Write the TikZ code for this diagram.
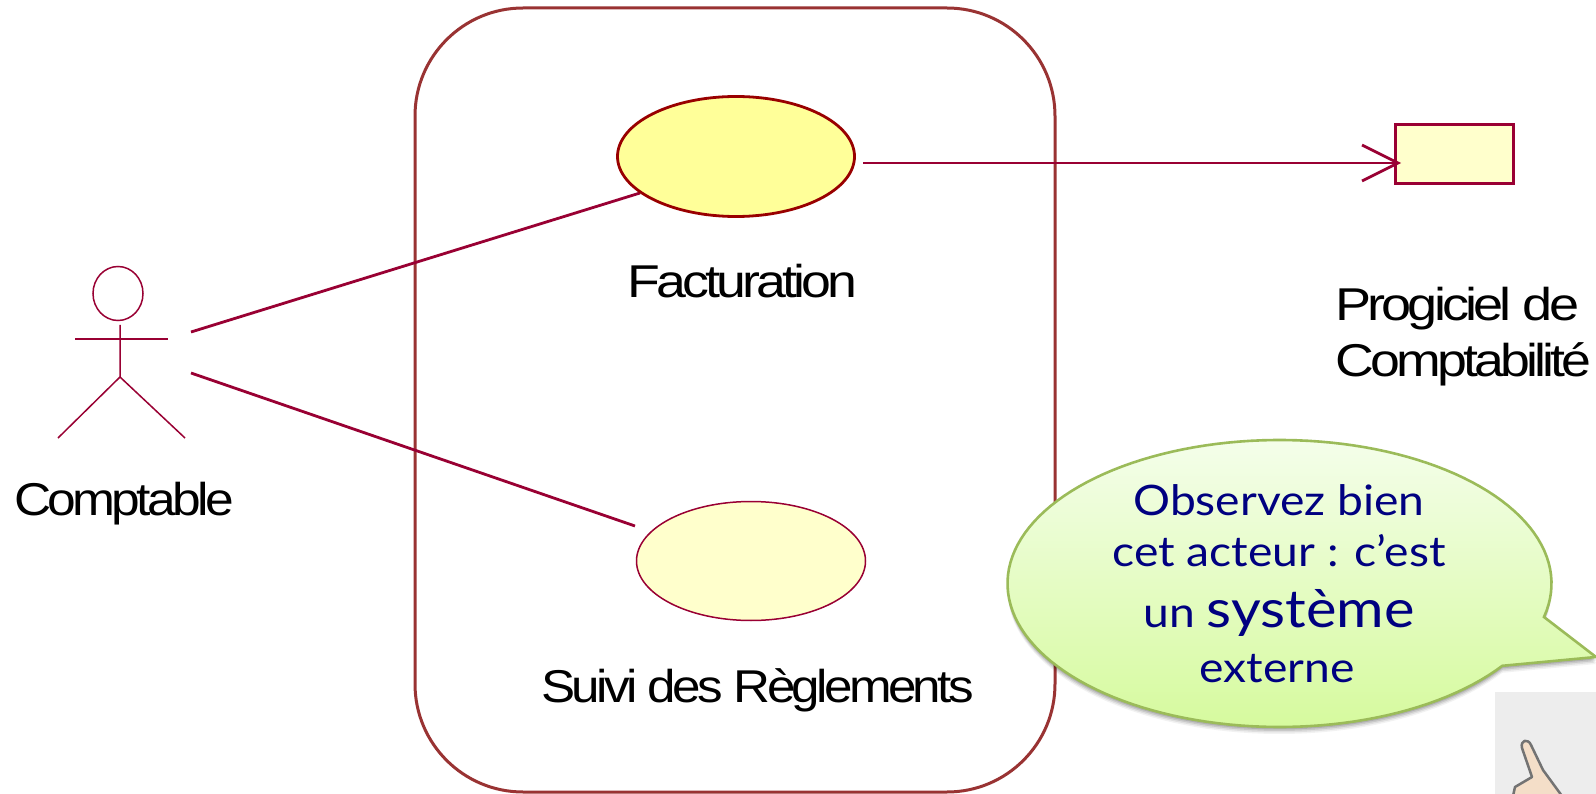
\documentclass[tikz,border=0pt]{standalone}
\usepackage{graphicx}
\usepackage{fontspec}
\usetikzlibrary{shapes.geometric,arrows.meta,shadings}
\setmainfont{Liberation Sans}
\newfontfamily\labfont[FakeStretch=1.12,LetterSpace=-8]{Liberation Sans}
\newfontfamily\bubfont[FakeStretch=1.1]{Lato}
\definecolor{umlline}{HTML}{990033}
\definecolor{navytext}{HTML}{000080}
\definecolor{frameline}{HTML}{993333}
\definecolor{bubline}{HTML}{9BBB59}
\definecolor{casefill}{HTML}{FFFF99}
\definecolor{caseline}{HTML}{990000}
\definecolor{palefill}{HTML}{FFFFCC}
\tikzset{
  umlwire/.style={draw=umlline,line width=2.8pt},
  stick/.style={draw=umlline,line width=1.5pt},
  lab/.style={anchor=base west,inner sep=0pt,text=black,font=\labfont\fontsize{46}{50}\selectfont},
  bub/.style={anchor=base,inner sep=0pt,text=navytext,font=\bubfont\fontsize{42}{46}\selectfont},
}
\newcommand{\bubblepath}{plot[domain=35:373.5,samples=140] ({1279.5+272*cos(\x)},{583.5+143.5*sin(\x)}) -- (1596,657) -- cycle}
\begin{document}
\begin{tikzpicture}[x=1pt,y=-1pt]
\useasboundingbox (0,0) rectangle (1596,794);
\clip (0,0) rectangle (1596,794);
\fill[white] (0,0) rectangle (1596,794);
% system frame
\node[draw=frameline,line width=3pt,rounded corners=108pt,minimum width=640pt,minimum height=784pt,inner sep=0pt] (frame) at (735,400) {};
% coordinates of connector ends
\coordinate (actorA) at (191,332);
\coordinate (actorB) at (191,373);
\coordinate (factIn) at (640,193);
\coordinate (suiviIn) at (635,526);
\coordinate (factOut) at (863,163);
\coordinate (rectIn) at (1398,163);
% use cases
\draw[umlwire] (actorA) -- (factIn);
\draw[umlwire] (actorB) -- (suiviIn);
\node[ellipse,draw=caseline,line width=2.8pt,fill=casefill,minimum width=237pt,minimum height=120pt,inner sep=0pt] (fact) at (736,156.5) {};
\node[ellipse,draw=umlline,line width=1.5pt,fill=palefill,minimum width=229pt,minimum height=119pt,inner sep=0pt] (suivi) at (751,561) {};
% external system
\node[rectangle,draw=umlline,line width=3pt,fill=palefill,minimum width=117.5pt,minimum height=58.5pt,inner sep=0pt] (prog) at (1454.5,154) {};
\draw[umlwire] (factOut) -- (rectIn);
\draw[umlwire] (1362,145) -- (rectIn) -- (1362,181);
% actor
\node[ellipse,draw=umlline,line width=1.5pt,minimum width=50pt,minimum height=54pt,inner sep=0pt] (head) at (118,293.5) {};
\coordinate (neck) at (120,325);
\coordinate (hip) at (120,377);
\coordinate (armL) at (75,339);
\coordinate (armR) at (168,339);
\coordinate (legL) at (58,438);
\coordinate (legR) at (185,438);
\draw[stick] (neck) -- (hip) -- (legL);
\draw[stick] (hip) -- (legR);
\draw[stick] (armL) -- (armR);
% labels
\node[lab] (lcomptable) at (14,515) {Comptable};
\node[lab] (lfact) at (627,298) {\scalebox{1.042}[1]{Facturation}};
\node[lab] (lsuivi) at (541,702) {\scalebox{0.993}[1]{Suivi des Règlements}};
\node[lab] (lprog) at (1335,321) {\scalebox{1.05}[1]{Progiciel de}};
\node[lab] (lcompta) at (1335,376) {\scalebox{1.042}[1]{Comptabilité}};
% hand tile
\fill[black!7] (1495,692) rectangle (1596,794);
\path[fill={rgb,255:red,244;green,222;blue,200},draw=black!55,line width=2.5pt,line join=round]
  (1513,796) -- (1515,787) -- (1532,777) -- (1522,748) .. controls (1520,740) and (1528,738) .. (1531,745) -- (1543,770) -- (1562,796) -- cycle;
% bubble with shadow
\foreach \o/\a in {7/0.05,5.5/0.08,4/0.10,2.5/0.12}{
  \fill[black,opacity=\a,shift={(0,\o)}] \bubblepath;
}
\path[top color={rgb,255:red,244;green,254;blue,234},bottom color={rgb,255:red,214;green,250;blue,158},draw=bubline,line width=2.6pt,line join=miter] \bubblepath;
\node[bub] (b1) at (1279,515) {Observez bien};
\node[bub] (b2) at (1279,566) {cet acteur : c’est};
\node[bub] (b3) at (1279,627) {un {\fontsize{52.5}{56}\selectfont système}};
\node[bub] (b4) at (1277,682) {externe};
\end{tikzpicture}
\end{document}
